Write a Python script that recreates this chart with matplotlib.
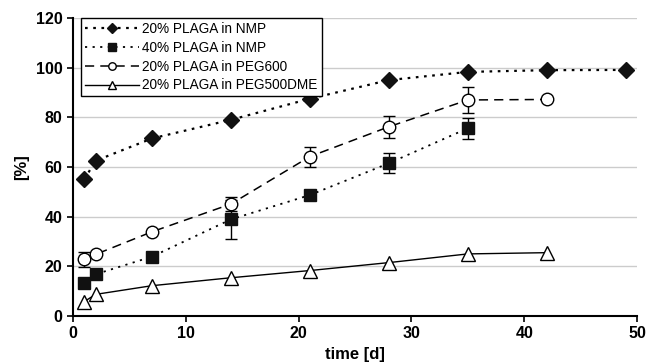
import matplotlib
matplotlib.use("Agg")
import matplotlib.pyplot as plt
from matplotlib.lines import Line2D

plt.rcParams['font.family'] = ['Liberation Sans', 'DejaVu Sans']

days_nmp20 = [1, 2, 7, 14, 21, 28, 35, 42, 49]
nmp20 = [55, 62.5, 71.5, 79, 87.5, 95, 98.3, 99, 99.1]

days_nmp40 = [1, 2, 7, 14, 21, 28, 35]
nmp40 = [13.3, 16.8, 23.9, 38.9, 48.7, 61.5, 75.6]
nmp40_err = [0, 0, 0, 7.8, 0, 4, 4.3]

days_peg600 = [1, 2, 7, 14, 21, 28, 35, 42]
peg600 = [22.8, 24.8, 33.9, 45.1, 64.2, 76.2, 87, 87.2]
peg600_err = [3.1, 0, 0, 2.7, 4, 4.5, 5.1, 0]

days_dme = [1, 2, 7, 14, 21, 28, 35, 42]
dme = [5.8, 8.7, 12.2, 15.4, 18.3, 21.5, 25, 25.5]

labels = ['20% PLAGA in NMP', '40% PLAGA in NMP', '20% PLAGA in PEG600', '20% PLAGA in PEG500DME']

fig = plt.figure(figsize=(6.5, 3.64), dpi=100)
ax = fig.add_axes([0.1123, 0.1319, 0.8677, 0.8186])

for y in [20, 40, 60, 80, 100, 120]:
    ax.axhline(y, color='#cccccc', lw=1, zorder=0)

s1 = dict(linestyle=(0, (1.2, 2.5)), color='black', lw=1.6, marker='D', ms=8.5,
          mfc='#111111', mec='#111111')
s2 = dict(linestyle=(0, (1.2, 3)), color='black', lw=1.3, marker='s', ms=9,
          mfc='#111111', mec='#111111')
s3 = dict(linestyle=(0, (6, 4)), color='black', lw=1.1, marker='o', ms=9,
          mfc='white', mec='black')
s4 = dict(linestyle='-', color='black', lw=1.0, marker='^', ms=10,
          mfc='white', mec='black')

ax.plot(days_nmp20, nmp20, zorder=3, **s1)
ax.errorbar(days_nmp40, nmp40, yerr=nmp40_err, capsize=4, elinewidth=1, ecolor='black',
            zorder=3, **s2)
ax.errorbar(days_peg600, peg600, yerr=peg600_err, capsize=4, elinewidth=1, ecolor='black',
            zorder=3, **s3)
ax.plot(days_dme, dme, zorder=3, **s4)

ax.set_xlim(0, 50)
ax.set_ylim(0, 120)
ax.set_xticks([0, 10, 20, 30, 40, 50])
ax.set_yticks([0, 20, 40, 60, 80, 100, 120])
ax.spines['top'].set_visible(False)
ax.spines['right'].set_visible(False)
ax.spines['left'].set_linewidth(1.5)
ax.spines['bottom'].set_linewidth(1.5)
ax.tick_params(axis='both', direction='out', length=4, width=1.2, labelsize=11.5)
for lbl in ax.get_xticklabels() + ax.get_yticklabels():
    lbl.set_fontweight('bold')
ax.set_xlabel('time [d]', fontsize=12, fontweight='bold', labelpad=4)
ax.set_ylabel('[%]', fontsize=12, fontweight='bold', labelpad=5)

handles = []
for st in (s1, s2, s3, s4):
    d = dict(st)
    d['ms'] = st['ms'] * 0.6
    handles.append(Line2D([], [], **d))

leg = ax.legend(handles, labels, loc='upper left', bbox_to_anchor=(0.014, 1.0), fontsize=9.8,
                frameon=True, fancybox=False, edgecolor='black', framealpha=1, borderpad=0.3,
                labelspacing=0.35, handlelength=4.0, handletextpad=0.2, borderaxespad=0)
leg.get_frame().set_linewidth(1.0)

fig.savefig('out.png', dpi=100)
